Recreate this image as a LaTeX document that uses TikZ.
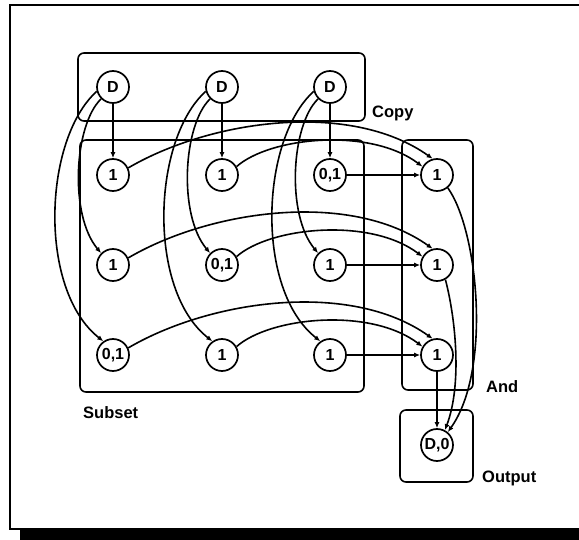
\documentclass[tikz,border=0pt]{standalone}
\usepackage{fontspec}
\setmainfont{Liberation Sans}
\usetikzlibrary{arrows.meta}
\begin{document}
\begin{tikzpicture}[x=1pt,y=-1pt,
  cell/.style={circle,draw,line width=1.7pt,minimum size=32pt,inner sep=0pt,
    font=\fontsize{16}{16}\selectfont\bfseries},
  group/.style={draw,line width=1.6pt,rounded corners=6pt},
  tag/.style={anchor=base west,inner sep=0pt,
    font=\fontsize{16.5}{16.5}\selectfont\bfseries},
  link/.style={line width=1.6pt,-{Latex[length=6pt,width=5pt]}},
]
\useasboundingbox (0,0) rectangle (579,540);

% outer frame with drop shadow
\draw[line width=2pt] (579,5.5) -- (10,5.5) -- (10,528.5) -- (579,528.5);
\fill (20,529.5) rectangle (579,540);

% group boxes
\draw[group] (78,53) rectangle (365,121);
\draw[group] (80,140) rectangle (364,392);
\draw[group] (402,140) rectangle (473,390);
\draw[group] (400,410) rectangle (473,482);

\node[tag] (lcopy) at (372,118) {Copy};
\node[tag] (lsub) at (83,418) {Subset};
\node[tag] (land) at (486,392) {And};
\node[tag] (lout) at (482,482) {Output};

% copy layer
\node[cell] (d1) at (113,87) {D};
\node[cell] (d2) at (222,87) {D};
\node[cell] (d3) at (330,87) {D};

% subset layer
\node[cell] (a1) at (113,175) {1};
\node[cell] (a2) at (222,175) {1};
\node[cell] (a3) at (330,175) {0,1};
\node[cell] (b1) at (113,265) {1};
\node[cell] (b2) at (222,265) {0,1};
\node[cell] (b3) at (330,265) {1};
\node[cell] (c1) at (113,355) {0,1};
\node[cell] (c2) at (222,355) {1};
\node[cell] (c3) at (330,355) {1};

% and layer and output
\node[cell] (n1) at (437,175) {1};
\node[cell] (n2) at (437,265) {1};
\node[cell] (n3) at (437,355) {1};
\node[cell] (o) at (437,445) {D,0};

% copies fanning down each column
\draw[link] (d1) -- (a1);
\draw[link] (d2) -- (a2);
\draw[link] (d3) -- (a3);
\draw[link] (d1.225) .. controls (74,125) and (69,215) .. (b1.135);
\draw[link] (d2.225) .. controls (183,125) and (178,215) .. (b2.135);
\draw[link] (d3.225) .. controls (291,125) and (286,215) .. (b3.135);
\draw[link] (d1.195) .. controls (43,140) and (38,290) .. (c1.125);
\draw[link] (d2.195) .. controls (152,140) and (147,290) .. (c2.125);
\draw[link] (d3.195) .. controls (260,140) and (255,290) .. (c3.125);

% each row gathered by an and cell
\draw[link] (a1.25) .. controls (210,120) and (350,100) .. (n1.105);
\draw[link] (a2.30) .. controls (270,137) and (370,127) .. (n1.150);
\draw[link] (a3) -- (n1);
\draw[link] (b1.25) .. controls (210,210) and (350,190) .. (n2.105);
\draw[link] (b2.30) .. controls (270,227) and (370,217) .. (n2.150);
\draw[link] (b3) -- (n2);
\draw[link] (c1.25) .. controls (210,300) and (350,280) .. (n3.105);
\draw[link] (c2.30) .. controls (270,317) and (370,307) .. (n3.150);
\draw[link] (c3) -- (n3);

% and cells into the output
\draw[link] (n1.310) .. controls (478,230) and (492,370) .. (o.50);
\draw[link] (n2.300) .. controls (456,320) and (462,385) .. (o.62);
\draw[link] (n3) -- (o);
\end{tikzpicture}
\end{document}
